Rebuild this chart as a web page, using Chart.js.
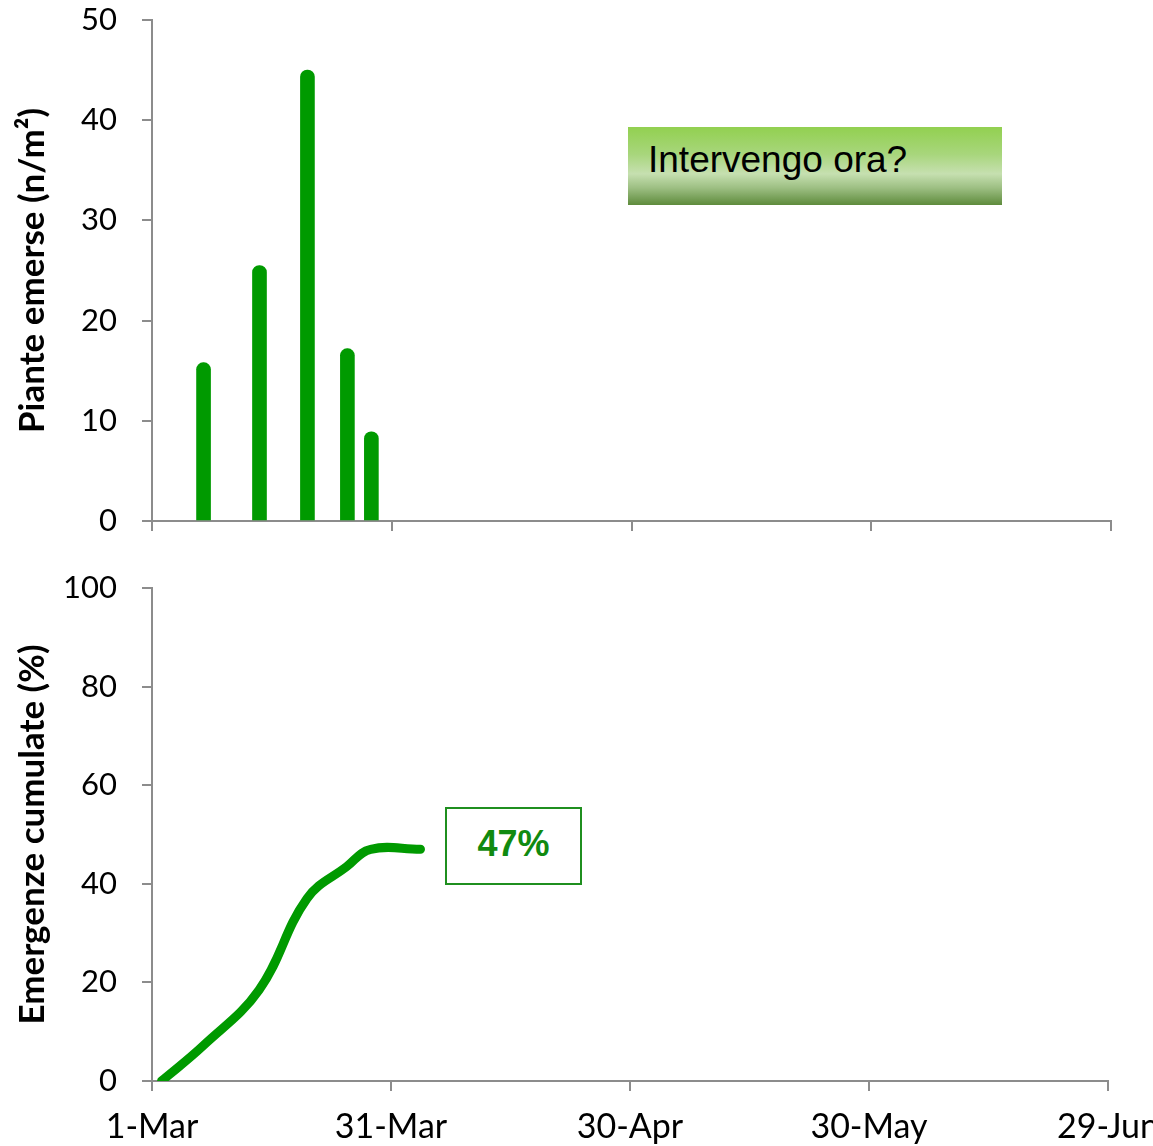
<!DOCTYPE html>
<html>
<head>
<meta charset="utf-8">
<script src="https://cdn.jsdelivr.net/npm/chart.js@4.4.1/dist/chart.umd.min.js"></script>
<style>
  html, body { margin: 0; padding: 0; background: #fff; overflow: hidden; width: 1153px; height: 1146px; }
  canvas { position: absolute; left: 0; }
  #emergedChart { top: 0; }
  #cumulativeChart { top: 560px; }
  .ask {
    position: absolute; left: 628px; top: 127px; width: 374px; height: 78px;
    box-sizing: border-box; padding-left: 20px;
    background: linear-gradient(to bottom, #92d050 0%, #a8d67c 35%, #c6e0b0 60%, #9dbf83 78%, #5e8b3c 100%);
    font: 37px "Liberation Sans", Arial, sans-serif; line-height: 66px; color: #000;
    white-space: nowrap;
  }
  .total {
    position: absolute; left: 445px; top: 807px; width: 137px; height: 78px;
    box-sizing: border-box; border: 2px solid #1f8f1f; background: #fff;
    font: bold 36px "Liberation Sans", Arial, sans-serif; line-height: 69px;
    color: #108a10; text-align: center;
  }
</style>
</head>
<body>
<canvas id="emergedChart" width="1200" height="560"></canvas>
<canvas id="cumulativeChart" width="1200" height="586"></canvas>
<div class="ask">Intervengo ora?</div>
<div class="total" id="totalLabel"></div>

<script>
// Days counted from 1 March
const emergenceDays = [6.45, 13.45, 19.45, 24.45, 27.45];
const emergedPlants = [15.8, 25.5, 45, 17.2, 8.9];           // plants / m²

const cumulativeDays = [1.2, 6.45, 13.45, 19.45, 24.45, 27.45, 33.7];
const cumulativePct  = [0, 7.2, 18.5, 37, 43.5, 47, 47];    // %

const dateTickDays   = [0, 30, 60, 90, 120];
const dateTickLabels = ['1-Mar', '31-Mar', '30-Apr', '30-May', '29-Jun'];

const green = '#009a00';
const axisGrey = '#8c8c8c';
const tickFont = { family: 'Lato, "Open Sans", sans-serif', size: 31 };
const titleFont = { family: 'Lato, "Open Sans", sans-serif', size: 35, weight: 'bold' };

function dateAxis(showLabels, height) {
  return {
    type: 'linear',
    min: 0,
    max: 120,
    offset: false,
    afterBuildTicks: s => { s.ticks = dateTickDays.map(v => ({ value: v })); },
    afterFit: s => { s.height = height; },
    border: { color: axisGrey, width: 2 },
    grid: { offset: false, drawOnChartArea: false, color: axisGrey, lineWidth: 2, tickLength: 10 },
    ticks: {
      display: showLabels,
      color: '#000',
      padding: 16,
      maxRotation: 0,
      autoSkip: false,
      font: { family: 'Lato, "Open Sans", sans-serif', size: 34 },
      callback: (v) => {
        const i = dateTickDays.indexOf(v);
        return i >= 0 ? dateTickLabels[i] : '';
      }
    }
  };
}

function valueAxis(max, step, title) {
  return {
    min: 0,
    max: max,
    afterFit: s => { s.width = 152; s.paddingTop = 0; s.paddingBottom = 0; },
    border: { color: axisGrey, width: 2 },
    grid: { drawOnChartArea: false, color: axisGrey, lineWidth: 2, tickLength: 10 },
    ticks: { stepSize: step, color: '#000', padding: 25, font: tickFont },
    title: { display: true, text: title, color: '#000', font: titleFont, padding: { top: 12, bottom: 0 } }
  };
}

const common = {
  responsive: false,
  animation: false,
  plugins: { legend: { display: false }, tooltip: { enabled: false } }
};

new Chart(document.getElementById('emergedChart'), {
  type: 'bar',
  data: {
    datasets: [{
      data: emergenceDays.map((d, i) => ({ x: d, y: emergedPlants[i] })),
      backgroundColor: green,
      barThickness: 14,
      borderRadius: 7
    }]
  },
  options: {
    ...common,
    layout: { padding: { top: 20, right: 89, left: 0, bottom: 0 } },
    scales: {
      x: dateAxis(false, 39),
      y: valueAxis(50, 10, 'Piante emerse (n/m²)')
    }
  }
});

new Chart(document.getElementById('cumulativeChart'), {
  type: 'line',
  data: {
    datasets: [{
      data: cumulativeDays.map((d, i) => ({ x: d, y: cumulativePct[i] })),
      borderColor: green,
      borderWidth: 9,
      borderCapStyle: 'round',
      borderJoinStyle: 'round',
      tension: 0.4,
      pointRadius: 0,
      fill: false
    }]
  },
  options: {
    ...common,
    layout: { padding: { top: 28, right: 92, left: 0, bottom: 0 } },
    scales: {
      x: dateAxis(true, 65),
      y: valueAxis(100, 20, 'Emergenze cumulate (%)')
    }
  }
});

document.getElementById('totalLabel').textContent =
  Math.round(cumulativePct[cumulativePct.length - 1]) + '%';
</script>
</body>
</html>
